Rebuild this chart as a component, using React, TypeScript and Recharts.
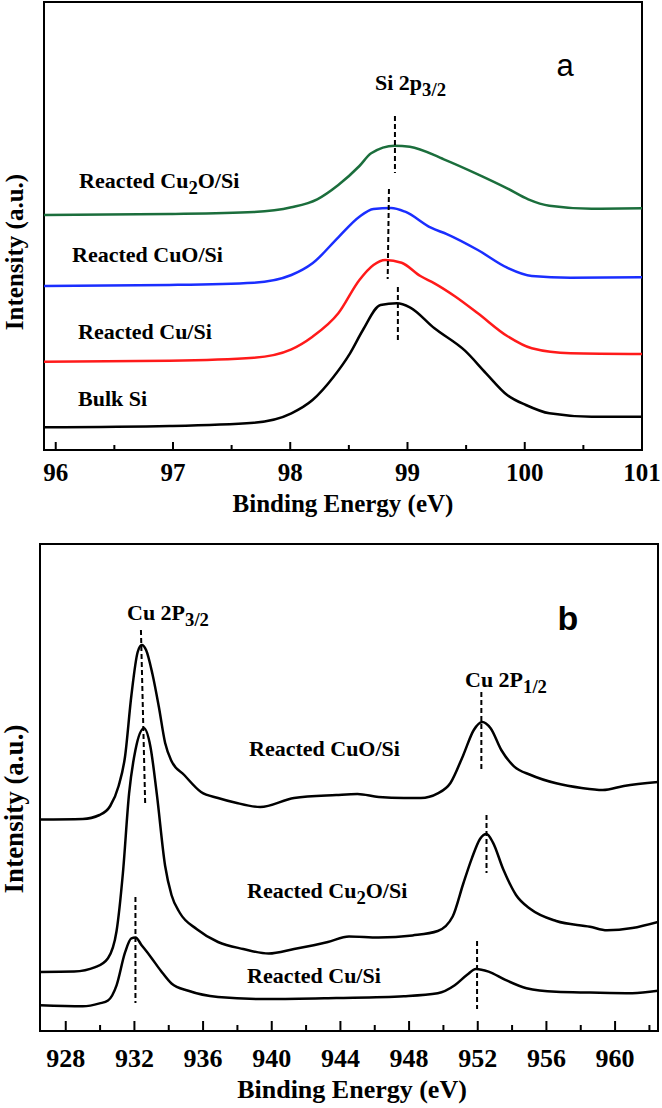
import React from 'react';
import { LineChart, Line, XAxis, YAxis, ReferenceLine, ReferenceArea } from 'recharts';

type Pt = [number, number];

// (a) Si 2p region: [binding energy, intensity a.u.]
const siBulk: Pt[] = [
  [95.9, 22.7], [96.97, 24], [97.69, 27.3], [98.01, 36.7], [98.19, 50], [98.37, 73.3],
  [98.51, 96.7], [98.62, 120], [98.77, 145], [98.91, 146.7], [99.02, 142.7], [99.23, 121.7],
  [99.49, 99.3], [99.67, 76.7], [99.85, 55], [100.01, 45], [100.21, 36.7], [100.57, 33.3], [101, 33.3],
];
const siCu: Pt[] = [
  [95.9, 88.3], [96.97, 89.3], [97.69, 92.3], [98.01, 100.7], [98.19, 113.3], [98.41, 136.7],
  [98.59, 170], [98.71, 185], [98.81, 190], [98.95, 187.3], [99.11, 174], [99.23, 166.7],
  [99.41, 153.3], [99.6, 136.7], [99.85, 114], [100.06, 101.7], [100.39, 96.7], [101, 96],
];
const siCuO: Pt[] = [
  [95.9, 164], [96.97, 165], [97.69, 167.3], [98.01, 175], [98.19, 186.7], [98.41, 212.7],
  [98.59, 233.3], [98.71, 241], [98.86, 242], [98.98, 238.3], [99.2, 222.3], [99.34, 215.7],
  [99.6, 200], [99.85, 182.3], [100.06, 174], [100.39, 172.3], [101, 172.7],
];
const siCu2O: Pt[] = [
  [95.9, 235], [96.97, 236], [97.69, 238], [98.01, 242.7], [98.23, 250.7], [98.41, 265],
  [98.59, 284], [98.69, 296.7], [98.89, 304.3], [99.02, 303.3], [99.31, 290.7], [99.6, 275.7],
  [99.85, 261.7], [100.03, 250.7], [100.21, 244.3], [100.57, 241.3], [101, 241.7],
];
const siTicks = [96, 96.5, 97, 97.5, 98, 98.5, 99, 99.5, 100, 100.5, 101];
const siTickLabels = [96, 97, 98, 99, 100, 101];
// dashed peak markers [x1, y1, x2, y2]
const siMarks = [
  [98.893, 334, 98.893, 277],
  [98.842, 261, 98.831, 171],
  [98.918, 163, 98.918, 107],
];

// (b) Cu 2p region
const cuCuO: Pt[] = [
  [926.5, 211.5], [928.99, 212], [929.97, 216], [930.59, 225], [931.08, 245], [931.45, 274],
  [931.82, 335], [932.19, 379], [932.43, 386], [932.68, 381], [933.05, 357], [933.42, 324.5],
  [933.79, 288], [934.16, 270], [934.9, 256], [935.88, 239], [936.87, 233], [937.85, 228.5],
  [939.33, 224], [941.3, 233], [943.76, 236], [944.99, 237], [946.23, 234], [947.7, 233],
  [948.69, 233], [949.67, 237.6], [950.41, 248], [951.15, 275.6], [951.77, 301], [952.26, 309],
  [952.75, 302.7], [953.37, 281], [954.11, 264.7], [955.09, 256], [956.57, 247.7], [958.05, 243],
  [959.28, 241], [960.51, 245], [962.5, 249],
];
const cuCu2O: Pt[] = [
  [926.5, 59], [928.49, 59.4], [929.72, 63.8], [930.46, 72.8], [930.96, 100], [931.33, 158],
  [931.69, 237.6], [932.06, 281], [932.56, 302.7], [932.93, 284.6], [933.3, 237.6], [933.79, 165],
  [934.16, 136], [934.65, 118], [935.64, 101.8], [936.87, 89], [938.34, 82], [939.82, 77.5],
  [941.3, 82], [943.27, 89], [944.5, 94.5], [946.23, 93.5], [948.2, 95.6], [949.67, 100],
  [950.54, 114.5], [951.15, 147], [951.65, 172.4], [952.14, 192.3], [952.51, 197], [952.88, 188.7],
  [953.49, 161.5], [954.23, 136], [955.09, 121.7], [956.57, 110], [958.54, 104.3], [959.53, 100.7],
  [961.0, 102.9], [962.5, 109],
];
const cuCu: Pt[] = [
  [926.5, 25.8], [928.99, 24.7], [929.97, 27.6], [930.46, 30.5], [930.96, 45.7], [931.45, 78.3],
  [931.82, 92.7], [932.06, 93.5], [932.43, 85.5], [932.93, 74.6], [933.54, 60.2], [934.16, 47.5],
  [935.14, 40.2], [936.87, 34.1], [939.82, 31.9], [943.76, 33], [947.7, 34.8], [949.67, 37.7],
  [950.66, 45.7], [951.4, 56.5], [951.89, 62], [952.63, 59.4], [953.61, 51.1], [954.84, 42.8],
  [956.57, 39.2], [958.54, 38.4], [961.0, 37.7], [962.5, 40.2],
];
const cuTicks = [928, 930, 932, 934, 936, 938, 940, 942, 944, 946, 948, 950, 952, 954, 956, 958, 960, 962];
const cuTickLabels = [928, 932, 936, 940, 944, 948, 952, 956, 960];
const cuMarks = [
  [932.38, 401, 932.63, 225],
  [952.21, 339, 952.21, 259],
  [952.51, 216, 952.51, 158],
  [932.06, 134, 932.06, 28],
  [951.96, 90, 951.96, 22],
];

const SERIF = "'Liberation Serif', 'DejaVu Serif', 'Noto Serif', 'Times New Roman', serif";
const SANS = "'Liberation Sans', Arial, sans-serif";

const rows = (pts: Pt[]) => pts.map(([e, v]) => ({ e, v }));

function tickRenderer(labels: number[], major: number, minor: number, dy: number, size: number) {
  return (props: any) => {
    const { x, y, payload } = props;
    const isMajor = labels.includes(payload.value);
    return (
      <g>
        <line x1={x} x2={x} y1={y} y2={y - (isMajor ? major : minor)} stroke="#000" strokeWidth={2} />
        {isMajor && (
          <text x={x} y={y + dy} textAnchor="middle" dominantBaseline="central"
            style={{ fontFamily: SERIF }} fontWeight={700} fontSize={size} fill="#000">
            {payload.value}
          </text>
        )}
      </g>
    );
  };
}

const Note = ({ x, y, size = 22, center = false, family = SERIF, weight = 700, children }: any) => (
  <div style={{
    position: 'absolute', left: x, top: y,
    transform: center ? 'translate(-50%,-50%)' : 'translate(0,-50%)',
    fontFamily: family, fontSize: size, fontWeight: weight, lineHeight: 1, whiteSpace: 'nowrap', color: '#000',
  }}>{children}</div>
);

const Sub = ({ children }: any) => (
  <span style={{ fontSize: '0.85em', position: 'relative', top: '0.3em' }}>{children}</span>
);

const YLabel = ({ x, y, size }: any) => (
  <div style={{
    position: 'absolute', left: x, top: y, transform: 'translate(-50%,-50%) rotate(-90deg)',
    fontFamily: SERIF, fontSize: size, fontWeight: 700, lineHeight: 1, whiteSpace: 'nowrap',
  }}>Intensity (a.u.)</div>
);

export default function App() {
  return (
    <div style={{ position: 'absolute', left: 0, top: 0, width: 662, height: 1108, background: '#fff' }}>
      <div style={{ position: 'absolute', left: 0, top: 0 }}>
        <LineChart width={662} height={540} margin={{ top: 2, right: 20, left: 44, bottom: 0 }}>
          <XAxis dataKey="e" type="number" domain={[95.9, 101]} ticks={siTicks} interval={0}
            allowDataOverflow height={90} axisLine={false} tickLine={false} tickSize={0} tickMargin={0}
            tick={tickRenderer(siTickLabels, 8, 5, 22, 25)} />
          <YAxis type="number" domain={[0, 448]} hide width={0} />
          <ReferenceArea x1={95.9} x2={101} y1={0} y2={448} fill="none" stroke="#000" strokeWidth={2} strokeOpacity={1} fillOpacity={0} />
          <Line data={rows(siBulk)} dataKey="v" type="monotone" stroke="#000" strokeWidth={2.5} dot={false} isAnimationActive={false} />
          <Line data={rows(siCu)} dataKey="v" type="monotone" stroke="#ff1a1a" strokeWidth={2.5} dot={false} isAnimationActive={false} />
          <Line data={rows(siCuO)} dataKey="v" type="monotone" stroke="#1a2eff" strokeWidth={2.5} dot={false} isAnimationActive={false} />
          <Line data={rows(siCu2O)} dataKey="v" type="monotone" stroke="#1b6e3c" strokeWidth={2.5} dot={false} isAnimationActive={false} />
          {siMarks.map((m, i) => (
            <ReferenceLine key={i} segment={[{ x: m[0], y: m[1] }, { x: m[2], y: m[3] }]}
              stroke="#000" strokeWidth={2} strokeDasharray="5 3" />
          ))}
        </LineChart>
      </div>
      <div style={{ position: 'absolute', left: 0, top: 540 }}>
        <LineChart width={662} height={568} margin={{ top: 4, right: 4, left: 40, bottom: 0 }}>
          <XAxis dataKey="e" type="number" domain={[926.5, 962.5]} ticks={cuTicks} interval={0}
            allowDataOverflow height={77} axisLine={false} tickLine={false} tickSize={0} tickMargin={0}
            tick={tickRenderer(cuTickLabels, 10, 6, 27, 26)} />
          <YAxis type="number" domain={[0, 487]} hide width={0} />
          <ReferenceArea x1={926.5} x2={962.5} y1={0} y2={487} fill="none" stroke="#000" strokeWidth={2} strokeOpacity={1} fillOpacity={0} />
          <Line data={rows(cuCu)} dataKey="v" type="monotone" stroke="#000" strokeWidth={2.5} dot={false} isAnimationActive={false} />
          <Line data={rows(cuCu2O)} dataKey="v" type="monotone" stroke="#000" strokeWidth={2.5} dot={false} isAnimationActive={false} />
          <Line data={rows(cuCuO)} dataKey="v" type="monotone" stroke="#000" strokeWidth={2.5} dot={false} isAnimationActive={false} />
          {cuMarks.map((m, i) => (
            <ReferenceLine key={i} segment={[{ x: m[0], y: m[1] }, { x: m[2], y: m[3] }]}
              stroke="#000" strokeWidth={2} strokeDasharray="5 3" />
          ))}
        </LineChart>
      </div>

      {/* panel a text */}
      <Note x={565} y={65} size={31} center family={SANS} weight={400}>a</Note>
      <Note x={375} y={83}>Si 2p<Sub>3/2</Sub></Note>
      <Note x={79} y={181}>Reacted Cu<Sub>2</Sub>O/Si</Note>
      <Note x={72} y={255}>Reacted CuO/Si</Note>
      <Note x={78} y={332}>Reacted Cu/Si</Note>
      <Note x={78} y={399}>Bulk Si</Note>
      <YLabel x={14} y={252} size={25} />
      <Note x={343} y={503} size={25} center>Binding Energy (eV)</Note>

      {/* panel b text */}
      <Note x={568} y={618} size={34} center family={SANS}>b</Note>
      <Note x={127} y={613}>Cu 2P<Sub>3/2</Sub></Note>
      <Note x={465} y={680}>Cu 2P<Sub>1/2</Sub></Note>
      <Note x={249} y={749}>Reacted CuO/Si</Note>
      <Note x={247} y={891}>Reacted Cu<Sub>2</Sub>O/Si</Note>
      <Note x={247} y={976}>Reacted Cu/Si</Note>
      <YLabel x={14} y={809} size={27} />
      <Note x={352} y={1090} size={26} center>Binding Energy (eV)</Note>
    </div>
  );
}
